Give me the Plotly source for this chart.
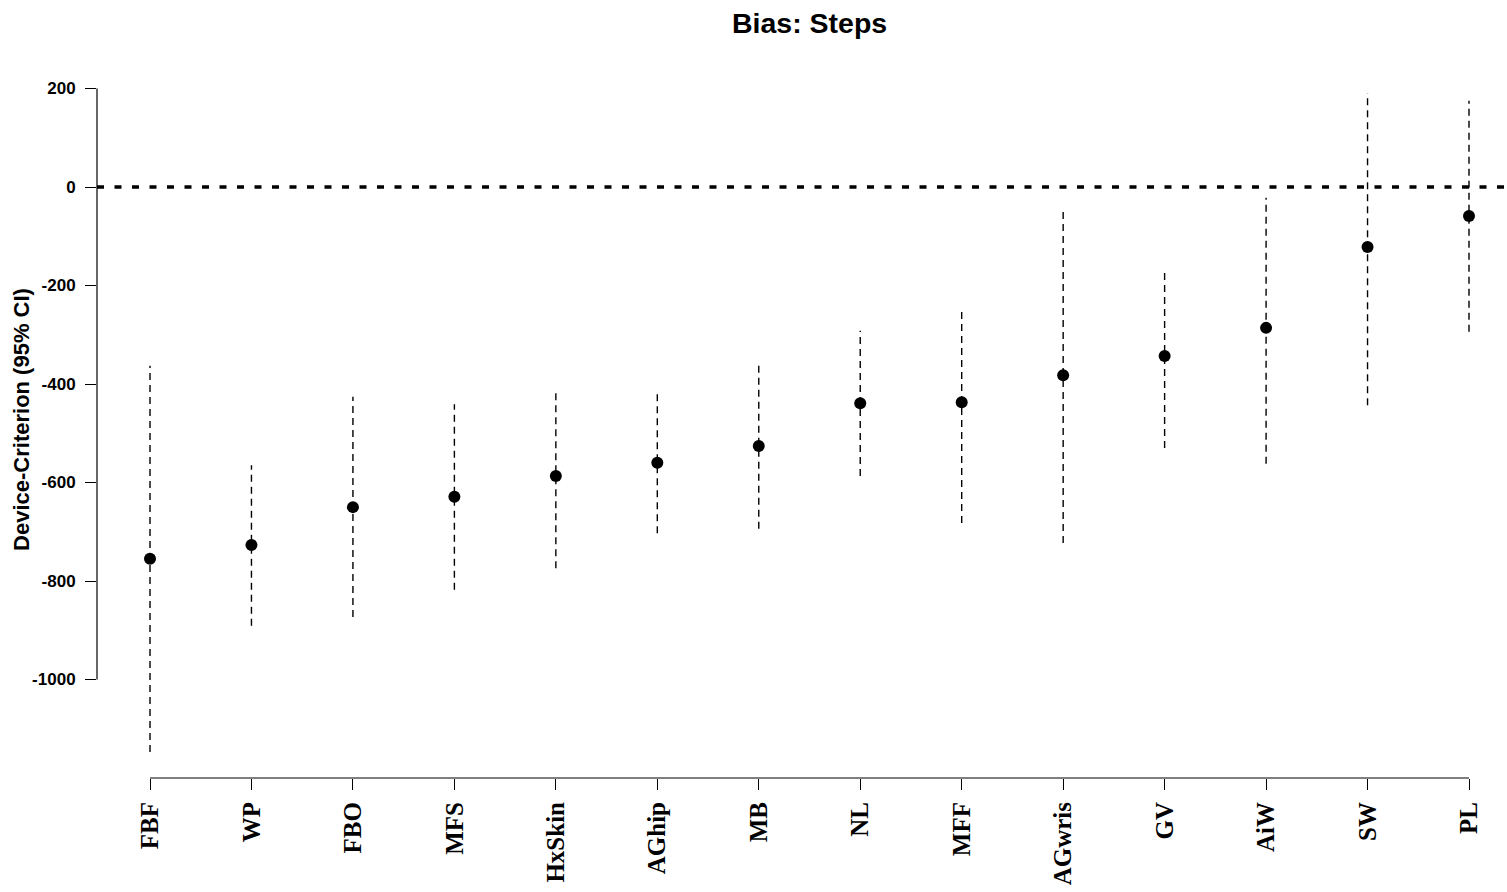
import plotly.graph_objects as go

devices = ["FBF", "WP", "FBO", "MFS", "HxSkin", "AGhip", "MB", "NL", "MFF",
           "AGwris", "GV", "AiW", "SW", "PL"]
bias = [-755, -727, -650, -629, -587, -560, -526, -439, -437, -382, -343, -286, -122, -59]
ci_low = [-1147, -891, -873, -818, -774, -703, -694, -587, -682, -723, -530, -562, -443, -294]
ci_high = [-363, -565, -426, -441, -416, -418, -363, -292, -252, -43, -173, -22, 191, 175]
y_ticks = [200, 0, -200, -400, -600, -800, -1000]

pos = list(range(1, len(devices) + 1))

fig = go.Figure()

# confidence intervals (dashed vertical lines)
xs, ys = [], []
for p, lo, hi in zip(pos, ci_low, ci_high):
    xs += [p, p, None]
    ys += [lo, hi, None]
fig.add_trace(go.Scatter(x=xs, y=ys, mode="lines",
                         line=dict(color="black", width=1.4, dash="7px,5px"),
                         hoverinfo="skip", showlegend=False))

# point estimates
fig.add_trace(go.Scatter(x=pos, y=bias, mode="markers",
                         marker=dict(color="black", size=12, line=dict(width=0)),
                         showlegend=False))

# zero reference line
fig.add_shape(type="line", xref="paper", x0=0, x1=1, yref="y", y0=0, y1=0,
              line=dict(color="black", width=3.5, dash="7px,10.5px"), layer="below")

# R-style axis lines spanning only the tick range
fig.add_shape(type="line", xref="paper", x0=0, x1=0, yref="y",
              y0=min(y_ticks), y1=max(y_ticks), line=dict(color="black", width=1.2))
fig.add_shape(type="line", xref="x", x0=pos[0], x1=pos[-1], yref="paper",
              y0=0, y1=0, line=dict(color="black", width=1.2))

fig.update_layout(
    width=1507, height=892,
    margin=dict(l=97, r=0, t=67, b=114, pad=0),
    plot_bgcolor="white", paper_bgcolor="white",
    showlegend=False,
    xaxis=dict(range=[0.4776, 14.3745], tickmode="array", tickvals=pos, ticktext=devices,
               tickangle=-90, ticks="outside", ticklen=11, tickwidth=1.2, tickcolor="black",
               showgrid=False, zeroline=False, showline=False,
               tickfont=dict(family="Liberation Serif", size=25, color="black", weight="bold"),
               ticklabelstandoff=2),
    yaxis=dict(range=[-1200, 243.7], tickmode="array", tickvals=y_ticks,
               ticktext=[str(v) for v in y_ticks],
               ticks="outside", ticklen=11, tickwidth=1.2, tickcolor="black",
               showgrid=False, zeroline=False, showline=False,
               tickfont=dict(family="Liberation Sans", size=17, color="black", weight="bold"),
               ticklabelstandoff=6),
    annotations=[
        dict(text="Bias: Steps", xref="paper", yref="paper", x=0.505, y=1.062,
             xanchor="center", yanchor="middle", showarrow=False,
             font=dict(family="Liberation Sans", size=28.5, color="black", weight="bold")),
        dict(text="Device-Criterion (95% CI)", xref="paper", yref="paper",
             x=-0.0532, y=0.505, xanchor="center", yanchor="middle", textangle=-90,
             showarrow=False,
             font=dict(family="Liberation Sans", size=22, color="black", weight="bold")),
    ],
)

fig.write_html("out.html")
